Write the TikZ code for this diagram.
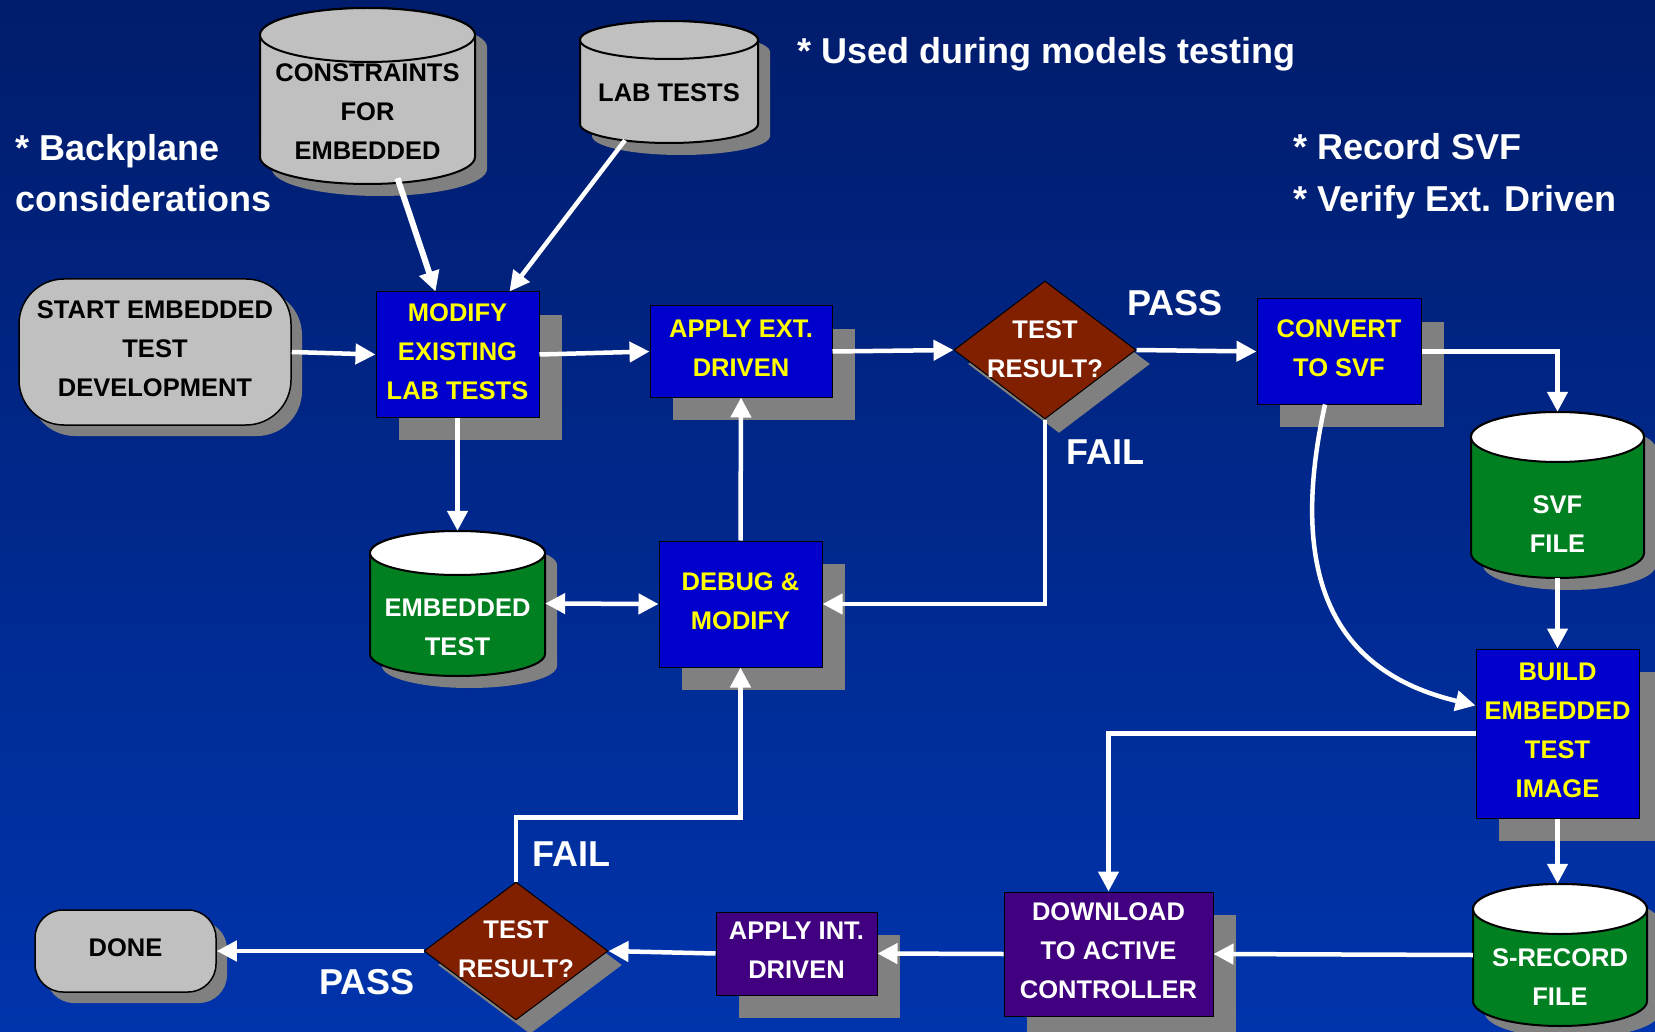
\documentclass[tikz,border=0pt]{standalone}
\usepackage{fontspec}
\setmainfont{Liberation Sans}
\usetikzlibrary{arrows.meta,shapes.geometric,shadows,calc}
\definecolor{bgtop}{RGB}{0,28,108}
\definecolor{bgbot}{RGB}{0,52,172}
\definecolor{cblue}{RGB}{0,0,204}
\definecolor{cpurple}{RGB}{64,0,128}
\definecolor{cbrown}{RGB}{128,32,0}
\definecolor{cgreen}{RGB}{0,128,32}
\definecolor{cgray}{RGB}{192,192,192}
\definecolor{cshadow}{RGB}{128,128,128}
\definecolor{cyellow}{RGB}{255,255,0}
\newcommand\boxfont{\bfseries\fontsize{25.5}{39}\selectfont}
\newcommand\notefont{\bfseries\fontsize{36}{52}\selectfont}
\tikzset{
  shd/.style={drop shadow={shadow xshift=#1pt, shadow yshift=-#1pt, fill=cshadow, opacity=1}},
  box/.style={draw=black, line width=1pt, inner sep=0pt, align=center, font=\boxfont, text depth=6pt},
  bluebox/.style={box, fill=cblue, text=cyellow, shd=23},
  purplebox/.style={box, fill=cpurple, text=white, shd=23},
  grayround/.style={box, line width=1.5pt, fill=cgray, text=black, shd=11},
  decision/.style={diamond, draw=black, line width=1pt, fill=cbrown, inner sep=0pt, shd=14},
  dtext/.style={inner sep=0pt, align=center, font=\boxfont, text=white},
  cyltext/.style={inner sep=0pt, align=center, font=\boxfont},
  cylline/.style={draw=black, line width=2pt},
  note/.style={inner sep=0pt, text=white, font=\notefont},
  conn/.style={draw=white, line width=4.5pt, -{Triangle[length=20pt,width=20pt]}},
}
% #1 name, #2 cx, #3 top, #4 bottom, #5 rx, #6 ry, #7 body colour, #8 top colour
\newcommand\cyl[8]{%
  \filldraw[cylline, fill=#7, shd=12] ({#2-#5},{#3+#6}) -- ({#2-#5},{#4-#6})
     arc[start angle=180,end angle=360,x radius=#5pt,y radius=#6pt]
     -- ({#2+#5},{#3+#6})
     arc[start angle=0,end angle=180,x radius=#5pt,y radius=#6pt] -- cycle;
  \filldraw[cylline, fill=#8] (#2,{#3+#6}) ellipse[x radius=#5pt, y radius=#6pt];
  \node[inner sep=0pt, minimum width={2*#5pt}, minimum height={(#4-#3)*1pt}] (#1) at (#2,{(#3+#4)/2}) {};
}
\begin{document}
\begin{tikzpicture}[x=1pt,y=-1pt]
\useasboundingbox (0,0) rectangle (1655,1032);
\fill[top color=bgtop, bottom color=bgbot] (0,0) rectangle (1655,1032);

% cylinders
\cyl{cons}{367.5}{8}{184}{107.5}{27}{cgray}{cgray}
\cyl{labt}{669}{21}{143}{89}{19}{cgray}{cgray}
\cyl{svf}{1557.5}{412}{578}{86.5}{25}{cgreen}{white}
\cyl{embt}{457.5}{531}{676}{87.5}{22}{cgreen}{white}
\cyl{srec}{1560}{884}{1026}{87}{25}{cgreen}{white}
\node[cyltext, text=black] (cons-t) at (367.5,112) {CONSTRAINTS\\FOR\\EMBEDDED};
\node[cyltext, text=black] (labt-t) at (669,93) {LAB TESTS};
\node[cyltext, text=white] (svf-t) at (1557.5,524) {SVF\\FILE};
\node[cyltext, text=white] (embt-t) at (457.5,627.5) {EMBEDDED\\TEST};
\node[cyltext, text=white] (srec-t) at (1560,977) {S-RECORD\\FILE};

% process boxes
\node[grayround, rounded corners=45pt, minimum width=272pt, minimum height=146pt] (start) at (155,352) {START EMBEDDED\\TEST\\DEVELOPMENT};
\node[grayround, rounded corners=28pt, minimum width=181pt, minimum height=82pt] (done) at (125.5,951) {DONE};
\node[bluebox, minimum width=163pt, minimum height=125pt] (modify) at (457.5,354.5) {MODIFY\\EXISTING\\LAB TESTS};
\node[bluebox, minimum width=182pt, minimum height=91pt] (applyext) at (741,351.5) {APPLY EXT.\\DRIVEN};
\node[bluebox, minimum width=164pt, minimum height=105pt] (convert) at (1339,351.5) {CONVERT\\TO SVF};
\node[bluebox, minimum width=163pt, minimum height=126pt] (debug) at (740.5,604) {DEBUG \&\\MODIFY};
\node[bluebox, minimum width=163pt, minimum height=169pt] (build) at (1557.5,733.5) {BUILD\\EMBEDDED\\TEST\\IMAGE};
\node[purplebox, minimum width=209pt, minimum height=124pt] (download) at (1108.5,954) {DOWNLOAD\\TO ACTIVE\\CONTROLLER};
\node[purplebox, minimum width=161pt, minimum height=83pt] (applyint) at (796.5,953.5) {APPLY INT.\\DRIVEN};

% decisions
\node[decision, minimum width=182pt, minimum height=138pt] (dtop) at (1045,350) {};
\node[dtext] (dtop-t) at (1045,349) {TEST\\RESULT?};
\node[decision, minimum width=184pt, minimum height=138pt] (dbot) at (516,951) {};
\node[dtext] (dbot-t) at (516,949) {TEST\\RESULT?};

% connectors
\draw[conn] (start.east) -- (modify.west);
\draw[conn, line width=6pt] ($(cons.south)+(30,-6)$) -- ($(modify.north)+(-22,0)$);
\draw[conn] ($(labt.south)+(-44,-3)$) -- ($(modify.north east)+(-30,0)$);
\draw[conn] (modify.east) -- (applyext.west);
\draw[conn] (applyext.east) -- (dtop.west);
\draw[conn] (dtop.east) -- (convert.west);
\draw[conn] (convert.east) -| (svf.north);
\draw[conn] ($(convert.south)+(-14,0)$) .. controls (1282,600) and (1352,676) .. ($(build.west)+(0,-28)$);
\draw[conn] (svf.south) -- (build.north);
\draw[conn] (build.south) -- (build.south |- srec.north);
\draw[conn] (build.west) -| (download.north);
\draw[conn] (srec.west) -- (download.east);
\draw[conn] (download.west) -- (applyint.east);
\draw[conn] (applyint.west) -- (dbot.east);
\draw[conn] (dbot.west) -- (done.east);
\draw[conn] (dbot.north) -- ++(0,-64) -| (debug.south);
\draw[conn] (debug.north) -- (applyext.south);
\draw[conn] (modify.south) -- (embt.north);
\draw[conn, {Triangle[length=20pt,width=20pt]}-{Triangle[length=20pt,width=20pt]}] (embt.east) -- (debug.west);
\draw[conn] (dtop.south) |- (debug.east);

% labels and notes
\node[note] (pass1) at (1175,303) {PASS};
\node[note] (fail1) at (1105,452) {FAIL};
\node[note] (fail2) at (571,854) {FAIL};
\node[note] (pass2) at (367,982) {PASS};
\node[note, anchor=base west] (n1) at (15,161) {* Backplane};
\node[note, anchor=base west] (n2) at (15,212) {considerations};
\node[note, anchor=base west] (n3) at (797,64) {* Used during models testing};
\node[note, anchor=base west] (n4) at (1293,160) {* Record SVF};
\node[note, anchor=base west] (n5) at (1293,212) {* Verify Ext. Driven};
\end{tikzpicture}
\end{document}
